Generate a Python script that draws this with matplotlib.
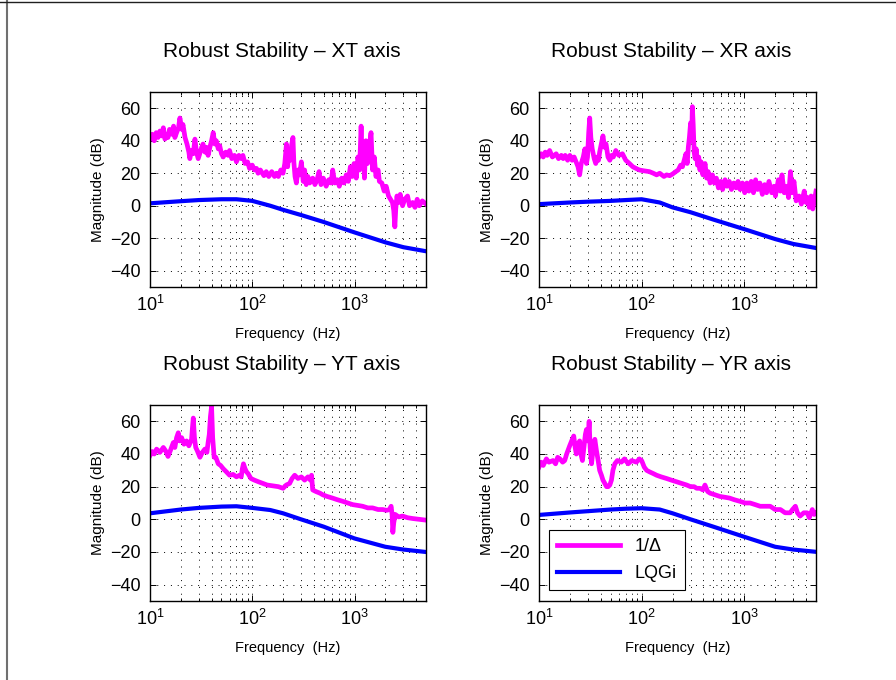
import matplotlib
matplotlib.use("Agg")
import matplotlib.pyplot as plt
from matplotlib.lines import Line2D
from matplotlib.ticker import LogLocator, FixedLocator

plt.rcParams['font.family'] = ['Liberation Sans', 'DejaVu Sans']
plt.rcParams['mathtext.default'] = 'regular'

# 1/Delta curves (Hz, dB)
xt_freq = [10, 10.5, 11, 11.5, 12, 12.5, 13, 13.5, 14, 14.5, 15, 15.5, 16.3, 17, 17.5,
           18.2, 19, 19.6, 20.5, 21, 22, 23, 24, 24.5, 25.5, 26.5, 27.5, 28.5, 29.6,
           31, 32, 33, 34.5, 35.5, 37, 38.5, 40, 41.5, 43, 44.5, 46.5, 48, 50, 52,
           55, 58, 60, 63, 67, 70, 74, 78, 81, 85, 90, 94, 100, 105, 110, 114, 120,
           130, 137, 145, 155, 165, 172, 180, 190, 200, 208, 216, 222, 228, 235,
           242, 250, 255, 262, 270, 280, 290, 302, 315, 325, 337, 350, 365, 390,
           410, 430, 450, 470, 495, 528, 560, 590, 612, 640, 680, 710, 750, 790,
           830, 870, 910, 950, 990, 1040, 1080, 1120, 1160, 1190, 1220, 1250,
           1290, 1340, 1390, 1450, 1500, 1560, 1620, 1700, 1750, 1850, 1950, 2040,
           2150, 2250, 2350, 2420, 2480, 2530, 2600, 2700, 2800, 2950, 3100, 3300,
           3450, 3700, 3900, 4100, 4300, 4600, 5000]
xt_inv = [41, 44, 40, 45, 42, 46, 43, 48, 41, 44, 42, 47, 44, 49, 42,
          45, 48, 54, 47, 50, 42, 38, 33, 29, 34, 32, 41, 33, 29,
          33, 36, 38, 33, 36, 31, 36, 40, 45, 38, 40, 35, 37, 32, 30,
          33, 31, 34, 29, 31, 27, 31, 29, 31, 26, 27, 23, 25, 22, 23, 20, 22,
          18.5, 21, 18, 21, 18, 20, 18, 22, 20, 26, 38, 24, 33, 28,
          37, 42, 27, 18, 14, 22, 19, 27, 15, 22, 13, 18, 14, 17,
          13, 16, 21, 13, 17, 12, 16, 14, 22, 14, 16, 12, 17, 14,
          19, 15, 24, 18, 26, 17, 30, 22, 49, 25, 38, 17,
          40, 26, 36, 45, 22, 30, 18, 22, 15, 14, 9, 12,
          6, 4, 2, -3, -13, -2, 6, 2, 7, 0, 4, 6,
          0, 2, -1, 4, 0, 3, 1]

xr_freq = [10, 10.5, 11, 11.5, 12, 12.7, 13.5, 14.7, 15.5, 16.5, 17.2, 18, 19, 20,
           21, 22, 23, 24, 24.9, 25.8, 27, 28, 29, 29.7, 30.5, 31.2, 32, 33, 34.5,
           35.7, 37, 38, 39, 40.5, 42, 43.5, 45, 47, 49, 51, 53, 56, 60, 65, 70,
           76, 82, 88, 95, 105, 119, 130, 140, 150, 165, 175, 188, 200, 215, 227,
           240, 250, 260, 270, 278, 285, 292, 300, 307, 312, 318, 325, 332, 340,
           350, 360, 370, 380, 395, 415, 430, 445, 465, 490, 510, 535, 560, 590,
           615, 650, 680, 715, 750, 790, 830, 870, 910, 960, 1010, 1060, 1110,
           1170, 1230, 1290, 1350, 1420, 1500, 1580, 1650, 1740, 1850, 1950, 2010,
           2150, 2250, 2330, 2450, 2610, 2700, 2820, 2920, 3050, 3200, 3420, 3600,
           3840, 4000, 4150, 4300, 4480, 4650, 4850, 5000]
xr_inv = [30, 32, 30, 33, 31, 34, 30, 32, 29, 31, 29, 31, 28, 31,
          28, 30, 27, 24, 19, 26, 30, 35, 26, 30, 45, 54, 42, 35, 29,
          26, 30, 28, 33, 38, 43, 36, 38, 30, 28, 31, 30, 34, 31, 32, 28,
          26, 24, 23, 22, 21.5, 21, 20, 19, 20, 18, 19, 18.5, 19.5, 21, 22,
          25, 24, 28, 32, 26, 36, 42, 51, 40, 61, 50, 33, 29, 35,
          25, 30, 22, 27, 19, 26, 17, 21, 14, 19, 14, 17, 11, 15,
          10, 16, 12, 15, 10, 14, 11, 15, 10, 14, 8, 14, 9,
          15, 8, 16, 10, 14, 7, 13, 8, 15, 8, 12, 6,
          16, 9, 19, 8, 12, 5, 21, 8, 15, 3, 6, 1,
          9, 2, 5, -1, 6, -2, 4, 9]

yt_freq = [10, 10.5, 11, 11.6, 12.5, 13.5, 14.2, 15, 15.8, 16.9, 17.5, 18.2, 18.9,
           19.5, 20.4, 21.5, 22.8, 24, 25.5, 26, 26.5, 27.2, 28, 29, 30.8, 32.5,
           34.4, 36, 37, 38, 39, 40, 41, 42.4, 44, 46.5, 49, 52, 56, 60, 65, 70,
           75, 78, 80, 82, 85, 88, 91, 97, 105, 115, 127, 140, 159, 180, 200, 215,
           232, 245, 260, 280, 302, 325, 350, 370, 380, 390, 420, 460, 490, 540,
           610, 680, 770, 860, 960, 1080, 1200, 1350, 1500, 1700, 1890, 2050,
           2200, 2280, 2330, 2370, 2420, 2500, 2700, 2950, 3300, 3700, 4300, 5000]
yt_inv = [39, 41.5, 40, 43, 41, 44, 42, 38.5, 42, 47, 44, 50, 53,
          48, 50, 46, 48, 45, 49, 56, 62, 50, 44, 42, 38, 41,
          43, 41, 47, 52, 63, 69, 50, 38, 38, 34, 33, 31, 29, 27, 27.5, 26,
          27, 26, 31, 34, 31, 29, 28, 25, 24, 23, 22, 21, 20.5, 20, 19, 21,
          22, 25, 27, 25, 26, 24, 26, 24, 27, 18, 17, 16, 15, 14,
          13, 12, 11, 10, 9, 8.5, 8, 7, 7, 6, 6, 5.5,
          6, 8, 3, -8, -2, 3, 1.5, 2, 1, 0.5, 0, -0.5]

yr_freq = [10, 10.5, 11, 11.8, 12.5, 13.7, 14.5, 15.2, 16, 17, 17.8, 18.6, 19.9,
           20.8, 21.8, 22.5, 23.1, 24, 24.9, 25.6, 26.5, 27.5, 28.3, 29, 30, 30.8,
           31.5, 32.5, 33.5, 35, 36.3, 37.7, 39, 40.6, 42, 43.8, 45.5, 47.2, 49,
           50.8, 52.5, 54.8, 58, 63.5, 68, 74, 80, 89, 95, 100, 106, 112, 120, 130,
           140, 155, 175, 195, 219, 245, 275, 300, 325, 344, 370, 395, 414, 440,
           465, 520, 580, 650, 720, 800, 910, 1020, 1140, 1280, 1430, 1600, 1790,
           2000, 2250, 2500, 2800, 2950, 3150, 3300, 3500, 3800, 4100, 4300, 4600,
           4800, 5000]
yr_inv = [32, 35, 33, 37, 35, 36, 34, 38, 37, 35, 36, 40, 45,
          48, 51, 44, 40, 46, 48, 40, 36, 45, 52, 55, 48, 60,
          44, 34, 42, 49, 42, 36, 30, 27, 24, 22, 20, 20, 21,
          24, 30, 34, 36, 35, 37, 34, 36, 35, 37, 36, 32, 30, 29, 28,
          27, 26, 25, 24, 23, 22, 21, 20, 20, 19, 19, 18, 21, 17,
          16, 15, 14, 13.5, 13, 12, 11, 10, 10, 9, 8, 8, 8,
          6, 6, 4, 4, 6, 8, 4, 2, 4, 4, 1, 6,
          3, 4]

# LQGi controller curves
lqg_freq = [10, 20, 30, 50, 70, 100, 150, 200, 300, 500, 1000, 2000, 3000, 5000]
xt_lqg = [1.5, 2.8, 3.5, 4, 4, 3, 0, -2.5, -5.7, -10, -16.4, -22.5, -25.5, -28]
xr_lqg = [1, 2, 2.5, 3, 3.5, 4, 2, -1, -4, -8.5, -14.4, -20.5, -23.5, -26]
yt_lqg = [3.7, 6, 7, 7.8, 8, 7, 5.7, 3.7, 0, -4.5, -11.7, -16.8, -18.5, -20]
yr_lqg = [2.7, 4.2, 5, 6, 6.5, 6.8, 6, 3.7, 0, -4.5, -10.7, -16.8, -18.5, -19.9]

titles = ['Robust Stability \u2013 XT axis', 'Robust Stability \u2013 XR axis',
          'Robust Stability \u2013 YT axis', 'Robust Stability \u2013 YR axis']
panels = [(xt_freq, xt_inv, xt_lqg), (xr_freq, xr_inv, xr_lqg),
          (yt_freq, yt_inv, yt_lqg), (yr_freq, yr_inv, yr_lqg)]

W, H = 896, 680
boxes = [(150, 92, 426, 287), (539, 92, 816, 287),
         (150, 405, 426, 601), (539, 405, 816, 601)]

fig = plt.figure(figsize=(W / 100, H / 100), dpi=100)

for (x0, y0, x1, y1), title, (f, inv, lqg) in zip(boxes, titles, panels):
    ax = fig.add_axes([x0 / W, 1 - y1 / H, (x1 - x0) / W, (y1 - y0) / H])
    ax.semilogx(f, inv, color='#ff00ff', lw=3.4, label='1/\u0394')
    ax.semilogx(lqg_freq, lqg, color='#0000ff', lw=3, label='LQGi')
    ax.set_xlim(10, 5000)
    ax.set_ylim(-50, 70)
    ax.yaxis.set_major_locator(FixedLocator([-40, -20, 0, 20, 40, 60]))
    ax.xaxis.set_major_locator(LogLocator(base=10, numticks=10))
    ax.xaxis.set_minor_locator(LogLocator(base=10, subs=range(2, 10), numticks=10))
    ax.grid(True, which='major', color='k', lw=0.7, linestyle=(0, (1, 6)))
    ax.grid(True, which='minor', axis='x', color='k', lw=0.7, linestyle=(0, (1, 6)))
    ax.tick_params(which='both', direction='in', top=True, right=True,
                   labelsize=13, width=0.7)
    ax.tick_params(which='major', length=4)
    ax.tick_params(which='minor', length=2)
    ax.tick_params(axis='y', pad=7)
    ax.tick_params(axis='x', pad=6)
    for s in ax.spines.values():
        s.set_linewidth(1.0)
    ax.set_title(title, fontsize=15, pad=25, x=0.476)
    ax.set_xlabel('Frequency  (Hz)', fontsize=10.5, labelpad=8)
    ax.set_ylabel('Magnitude (dB)', fontsize=11, labelpad=3)

leg = ax.legend(loc='lower left', bbox_to_anchor=(0.035, 0.055), fontsize=13,
                handlelength=3.5, fancybox=False, framealpha=1, borderaxespad=0,
                labelspacing=0.55, borderpad=0.45)
leg.get_frame().set_edgecolor('k')
leg.get_frame().set_linewidth(0.8)

# window frame edges visible in the screenshot
fig.add_artist(Line2D([7 / W, 7 / W], [0, 1], color='#707070', lw=1.5))
fig.add_artist(Line2D([0, 1], [1 - 1.5 / H, 1 - 1.5 / H], color='#202020', lw=1))

fig.savefig('out.png', dpi=100)
